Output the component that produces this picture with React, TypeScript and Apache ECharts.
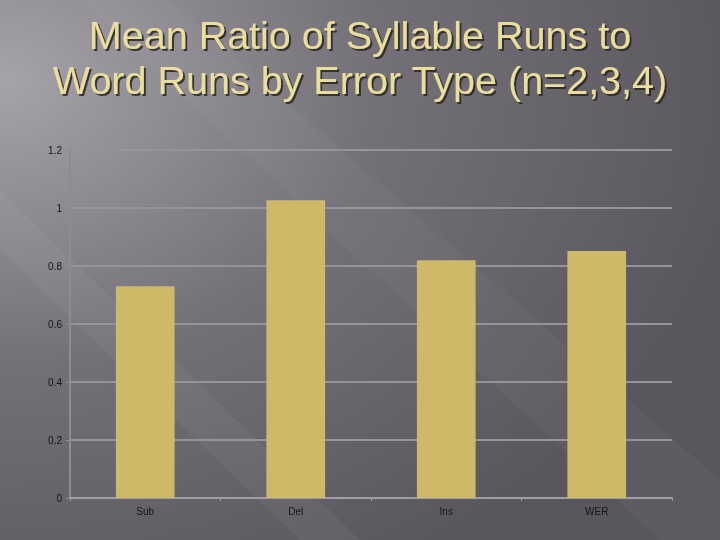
import React, { useEffect, useRef } from "react";
import * as echarts from "echarts";

const categories = ["Sub", "Del", "Ins", "WER"];
const values = [0.73, 1.027, 0.82, 0.852];
const titleLines = ["Mean Ratio of Syllable Runs to", "Word Runs by Error Type (n=2,3,4)"];

export default function App() {
  const ref = useRef<HTMLDivElement>(null);
  useEffect(() => {
    document.body.style.margin = "0";
    const chart = echarts.init(ref.current!, null, { renderer: "svg" });
    chart.setOption({
      animation: false,
      graphic: [
        {
          type: "rect",
          z: -10,
          silent: true,
          shape: { x: 0, y: 0, width: 720, height: 540 },
          style: {
            fill: {
              type: "radial",
              x: 0.0,
              y: 0.15,
              r: 1.05,
              colorStops: [
                { offset: 0, color: "#a6a4aa" },
                { offset: 0.5, color: "#737177" },
                { offset: 1, color: "#59575d" },
              ],
            },
          },
        },
        {
          type: "polygon",
          z: -9,
          silent: true,
          shape: { points: [[0, 190], [0, 250], [300, 540], [360, 540]] },
          style: { fill: "rgba(255,255,255,0.045)" },
        },
        {
          type: "polygon",
          z: -9,
          silent: true,
          shape: { points: [[80, 0], [170, 0], [720, 480], [720, 540], [660, 540]] },
          style: { fill: "rgba(255,255,255,0.03)" },
        },
        {
          type: "text",
          z: 10,
          x: 360,
          y: 57,
          style: {
            text: titleLines.join("\n"),
            font: "39.5px 'Liberation Sans'",
            lineHeight: 45,
            fill: "#ebdd9c",
            align: "center",
            verticalAlign: "middle",
            textShadowColor: "rgba(40,38,44,0.85)",
            textShadowOffsetX: 2,
            textShadowOffsetY: 2,
            textShadowBlur: 1,
          },
        },
      ],
      grid: { left: 70, right: 48, top: 150, bottom: 42 },
      xAxis: {
        type: "category",
        data: categories,
        axisLine: { show: true, lineStyle: { color: "#a09ea4", width: 2 } },
        axisTick: { show: true, length: 3, lineStyle: { color: "#a09ea4" } },
        axisLabel: { color: "#141414", fontFamily: "Liberation Sans", fontSize: 10, margin: 8 },
        splitLine: { show: false },
      },
      yAxis: {
        type: "value",
        min: 0,
        max: 1.2,
        interval: 0.2,
        axisLine: { show: true, lineStyle: { color: "#8e8c92", width: 2 } },
        axisTick: { show: true, length: 4, lineStyle: { color: "#8e8c92" } },
        axisLabel: { color: "#141414", fontFamily: "Liberation Sans", fontSize: 10, margin: 8 },
        splitLine: { show: true, lineStyle: { color: "#96949a", width: 2 } },
      },
      series: [
        {
          type: "bar",
          data: values,
          barWidth: "39%",
          itemStyle: { color: "#cdb968" },
        },
      ],
    });
    return () => chart.dispose();
  }, []);
  return <div ref={ref} style={{ position: "fixed", left: 0, top: 0, width: 720, height: 540 }} />;
}
